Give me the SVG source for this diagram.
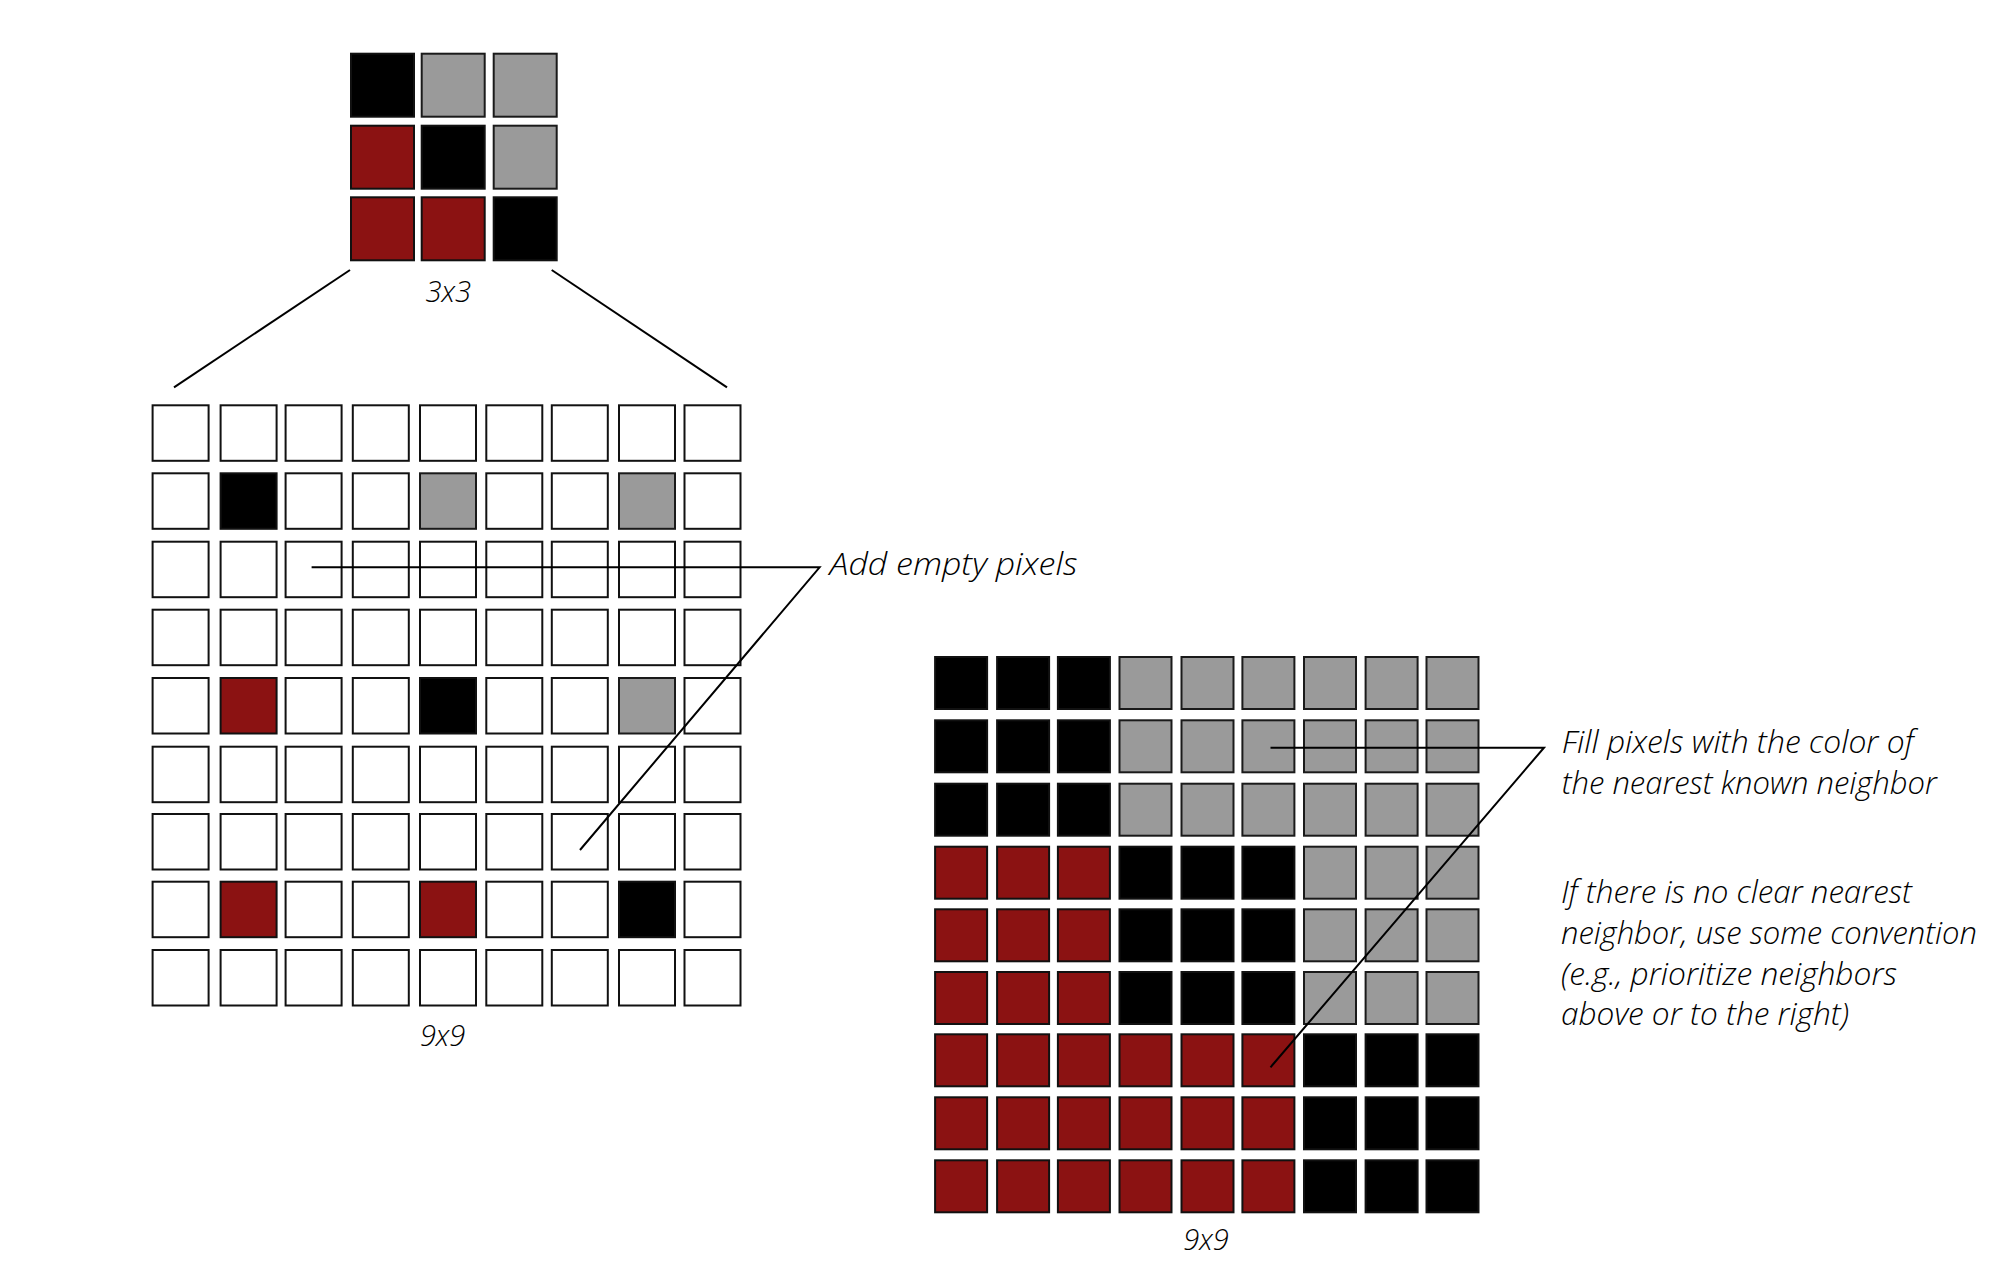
<svg xmlns="http://www.w3.org/2000/svg" width="1999" height="1261" viewBox="0 0 1999 1261">
<style>
.w{fill:#ffffff;stroke:#111;stroke-width:2}
.k{fill:#000000;stroke:#111;stroke-width:2}
.g{fill:#9a9a9a;stroke:#1a1a1a;stroke-width:2}
.r{fill:#8b1212;stroke:#111;stroke-width:2}
.ln{fill:none;stroke:#000;stroke-width:2}
.t{font-family:"Open Sans","Noto Sans","DejaVu Sans",sans-serif;font-style:italic;font-weight:350;font-size:31px;fill:#000}
.lbl{font-family:"Open Sans","Noto Sans","DejaVu Sans",sans-serif;font-style:italic;font-weight:350;font-size:29px;fill:#000;text-anchor:middle}
</style>
<rect x="0" y="0" width="1999" height="1261" fill="#ffffff"/>

<g id="grid3x3">
<rect class="k" x="351" y="53.7" width="63" height="63"/>
<rect class="g" x="421.7" y="53.7" width="63" height="63"/>
<rect class="g" x="493.7" y="53.7" width="63" height="63"/>
<rect class="r" x="351" y="125.7" width="63" height="63"/>
<rect class="k" x="421.7" y="125.7" width="63" height="63"/>
<rect class="g" x="493.7" y="125.7" width="63" height="63"/>
<rect class="r" x="351" y="197.3" width="63" height="63"/>
<rect class="r" x="421.7" y="197.3" width="63" height="63"/>
<rect class="k" x="493.7" y="197.3" width="63" height="63"/>
<text class="lbl" x="448.3" y="302.3">3x3</text>
</g>

<g id="grid9x9-empty">
<g id="l-row1">
<rect class="w" x="152.6" y="405.3" width="56" height="55.5"/><rect class="w" x="220.6" y="405.3" width="56" height="55.5"/><rect class="w" x="285.6" y="405.3" width="56" height="55.5"/><rect class="w" x="352.8" y="405.3" width="56" height="55.5"/><rect class="w" x="420" y="405.3" width="56" height="55.5"/><rect class="w" x="486.3" y="405.3" width="56" height="55.5"/><rect class="w" x="551.8" y="405.3" width="56" height="55.5"/><rect class="w" x="619" y="405.3" width="56" height="55.5"/><rect class="w" x="684.5" y="405.3" width="56" height="55.5"/>
</g>
<g id="l-row2">
<rect class="w" x="152.6" y="473.3" width="56" height="55.5"/><rect class="k" x="220.6" y="473.3" width="56" height="55.5"/><rect class="w" x="285.6" y="473.3" width="56" height="55.5"/><rect class="w" x="352.8" y="473.3" width="56" height="55.5"/><rect class="g" x="420" y="473.3" width="56" height="55.5"/><rect class="w" x="486.3" y="473.3" width="56" height="55.5"/><rect class="w" x="551.8" y="473.3" width="56" height="55.5"/><rect class="g" x="619" y="473.3" width="56" height="55.5"/><rect class="w" x="684.5" y="473.3" width="56" height="55.5"/>
</g>
<g id="l-row3">
<rect class="w" x="152.6" y="541.7" width="56" height="55.5"/><rect class="w" x="220.6" y="541.7" width="56" height="55.5"/><rect class="w" x="285.6" y="541.7" width="56" height="55.5"/><rect class="w" x="352.8" y="541.7" width="56" height="55.5"/><rect class="w" x="420" y="541.7" width="56" height="55.5"/><rect class="w" x="486.3" y="541.7" width="56" height="55.5"/><rect class="w" x="551.8" y="541.7" width="56" height="55.5"/><rect class="w" x="619" y="541.7" width="56" height="55.5"/><rect class="w" x="684.5" y="541.7" width="56" height="55.5"/>
</g>
<g id="l-row4">
<rect class="w" x="152.6" y="609.7" width="56" height="55.5"/><rect class="w" x="220.6" y="609.7" width="56" height="55.5"/><rect class="w" x="285.6" y="609.7" width="56" height="55.5"/><rect class="w" x="352.8" y="609.7" width="56" height="55.5"/><rect class="w" x="420" y="609.7" width="56" height="55.5"/><rect class="w" x="486.3" y="609.7" width="56" height="55.5"/><rect class="w" x="551.8" y="609.7" width="56" height="55.5"/><rect class="w" x="619" y="609.7" width="56" height="55.5"/><rect class="w" x="684.5" y="609.7" width="56" height="55.5"/>
</g>
<g id="l-row5">
<rect class="w" x="152.6" y="678" width="56" height="55.5"/><rect class="r" x="220.6" y="678" width="56" height="55.5"/><rect class="w" x="285.6" y="678" width="56" height="55.5"/><rect class="w" x="352.8" y="678" width="56" height="55.5"/><rect class="k" x="420" y="678" width="56" height="55.5"/><rect class="w" x="486.3" y="678" width="56" height="55.5"/><rect class="w" x="551.8" y="678" width="56" height="55.5"/><rect class="g" x="619" y="678" width="56" height="55.5"/><rect class="w" x="684.5" y="678" width="56" height="55.5"/>
</g>
<g id="l-row6">
<rect class="w" x="152.6" y="746.7" width="56" height="55.5"/><rect class="w" x="220.6" y="746.7" width="56" height="55.5"/><rect class="w" x="285.6" y="746.7" width="56" height="55.5"/><rect class="w" x="352.8" y="746.7" width="56" height="55.5"/><rect class="w" x="420" y="746.7" width="56" height="55.5"/><rect class="w" x="486.3" y="746.7" width="56" height="55.5"/><rect class="w" x="551.8" y="746.7" width="56" height="55.5"/><rect class="w" x="619" y="746.7" width="56" height="55.5"/><rect class="w" x="684.5" y="746.7" width="56" height="55.5"/>
</g>
<g id="l-row7">
<rect class="w" x="152.6" y="814" width="56" height="55.5"/><rect class="w" x="220.6" y="814" width="56" height="55.5"/><rect class="w" x="285.6" y="814" width="56" height="55.5"/><rect class="w" x="352.8" y="814" width="56" height="55.5"/><rect class="w" x="420" y="814" width="56" height="55.5"/><rect class="w" x="486.3" y="814" width="56" height="55.5"/><rect class="w" x="551.8" y="814" width="56" height="55.5"/><rect class="w" x="619" y="814" width="56" height="55.5"/><rect class="w" x="684.5" y="814" width="56" height="55.5"/>
</g>
<g id="l-row8">
<rect class="w" x="152.6" y="881.7" width="56" height="55.5"/><rect class="r" x="220.6" y="881.7" width="56" height="55.5"/><rect class="w" x="285.6" y="881.7" width="56" height="55.5"/><rect class="w" x="352.8" y="881.7" width="56" height="55.5"/><rect class="r" x="420" y="881.7" width="56" height="55.5"/><rect class="w" x="486.3" y="881.7" width="56" height="55.5"/><rect class="w" x="551.8" y="881.7" width="56" height="55.5"/><rect class="k" x="619" y="881.7" width="56" height="55.5"/><rect class="w" x="684.5" y="881.7" width="56" height="55.5"/>
</g>
<g id="l-row9">
<rect class="w" x="152.6" y="950" width="56" height="55.5"/><rect class="w" x="220.6" y="950" width="56" height="55.5"/><rect class="w" x="285.6" y="950" width="56" height="55.5"/><rect class="w" x="352.8" y="950" width="56" height="55.5"/><rect class="w" x="420" y="950" width="56" height="55.5"/><rect class="w" x="486.3" y="950" width="56" height="55.5"/><rect class="w" x="551.8" y="950" width="56" height="55.5"/><rect class="w" x="619" y="950" width="56" height="55.5"/><rect class="w" x="684.5" y="950" width="56" height="55.5"/>
</g>
<text class="lbl" x="442.6" y="1046">9x9</text>
</g>

<g id="grid9x9-filled">
<g id="r-row1">
<rect class="k" x="935.1" y="657" width="52" height="52"/><rect class="k" x="997.1" y="657" width="52" height="52"/><rect class="k" x="1057.9" y="657" width="52" height="52"/><rect class="g" x="1119.5" y="657" width="52" height="52"/><rect class="g" x="1181.5" y="657" width="52" height="52"/><rect class="g" x="1242.4" y="657" width="52" height="52"/><rect class="g" x="1304" y="657" width="52" height="52"/><rect class="g" x="1365.6" y="657" width="52" height="52"/><rect class="g" x="1426.5" y="657" width="52" height="52"/>
</g>
<g id="r-row2">
<rect class="k" x="935.1" y="720.3" width="52" height="52"/><rect class="k" x="997.1" y="720.3" width="52" height="52"/><rect class="k" x="1057.9" y="720.3" width="52" height="52"/><rect class="g" x="1119.5" y="720.3" width="52" height="52"/><rect class="g" x="1181.5" y="720.3" width="52" height="52"/><rect class="g" x="1242.4" y="720.3" width="52" height="52"/><rect class="g" x="1304" y="720.3" width="52" height="52"/><rect class="g" x="1365.6" y="720.3" width="52" height="52"/><rect class="g" x="1426.5" y="720.3" width="52" height="52"/>
</g>
<g id="r-row3">
<rect class="k" x="935.1" y="783.7" width="52" height="52"/><rect class="k" x="997.1" y="783.7" width="52" height="52"/><rect class="k" x="1057.9" y="783.7" width="52" height="52"/><rect class="g" x="1119.5" y="783.7" width="52" height="52"/><rect class="g" x="1181.5" y="783.7" width="52" height="52"/><rect class="g" x="1242.4" y="783.7" width="52" height="52"/><rect class="g" x="1304" y="783.7" width="52" height="52"/><rect class="g" x="1365.6" y="783.7" width="52" height="52"/><rect class="g" x="1426.5" y="783.7" width="52" height="52"/>
</g>
<g id="r-row4">
<rect class="r" x="935.1" y="846.7" width="52" height="52"/><rect class="r" x="997.1" y="846.7" width="52" height="52"/><rect class="r" x="1057.9" y="846.7" width="52" height="52"/><rect class="k" x="1119.5" y="846.7" width="52" height="52"/><rect class="k" x="1181.5" y="846.7" width="52" height="52"/><rect class="k" x="1242.4" y="846.7" width="52" height="52"/><rect class="g" x="1304" y="846.7" width="52" height="52"/><rect class="g" x="1365.6" y="846.7" width="52" height="52"/><rect class="g" x="1426.5" y="846.7" width="52" height="52"/>
</g>
<g id="r-row5">
<rect class="r" x="935.1" y="909.3" width="52" height="52"/><rect class="r" x="997.1" y="909.3" width="52" height="52"/><rect class="r" x="1057.9" y="909.3" width="52" height="52"/><rect class="k" x="1119.5" y="909.3" width="52" height="52"/><rect class="k" x="1181.5" y="909.3" width="52" height="52"/><rect class="k" x="1242.4" y="909.3" width="52" height="52"/><rect class="g" x="1304" y="909.3" width="52" height="52"/><rect class="g" x="1365.6" y="909.3" width="52" height="52"/><rect class="g" x="1426.5" y="909.3" width="52" height="52"/>
</g>
<g id="r-row6">
<rect class="r" x="935.1" y="972" width="52" height="52"/><rect class="r" x="997.1" y="972" width="52" height="52"/><rect class="r" x="1057.9" y="972" width="52" height="52"/><rect class="k" x="1119.5" y="972" width="52" height="52"/><rect class="k" x="1181.5" y="972" width="52" height="52"/><rect class="k" x="1242.4" y="972" width="52" height="52"/><rect class="g" x="1304" y="972" width="52" height="52"/><rect class="g" x="1365.6" y="972" width="52" height="52"/><rect class="g" x="1426.5" y="972" width="52" height="52"/>
</g>
<g id="r-row7">
<rect class="r" x="935.1" y="1034.3" width="52" height="52"/><rect class="r" x="997.1" y="1034.3" width="52" height="52"/><rect class="r" x="1057.9" y="1034.3" width="52" height="52"/><rect class="r" x="1119.5" y="1034.3" width="52" height="52"/><rect class="r" x="1181.5" y="1034.3" width="52" height="52"/><rect class="r" x="1242.4" y="1034.3" width="52" height="52"/><rect class="k" x="1304" y="1034.3" width="52" height="52"/><rect class="k" x="1365.6" y="1034.3" width="52" height="52"/><rect class="k" x="1426.5" y="1034.3" width="52" height="52"/>
</g>
<g id="r-row8">
<rect class="r" x="935.1" y="1097.3" width="52" height="52"/><rect class="r" x="997.1" y="1097.3" width="52" height="52"/><rect class="r" x="1057.9" y="1097.3" width="52" height="52"/><rect class="r" x="1119.5" y="1097.3" width="52" height="52"/><rect class="r" x="1181.5" y="1097.3" width="52" height="52"/><rect class="r" x="1242.4" y="1097.3" width="52" height="52"/><rect class="k" x="1304" y="1097.3" width="52" height="52"/><rect class="k" x="1365.6" y="1097.3" width="52" height="52"/><rect class="k" x="1426.5" y="1097.3" width="52" height="52"/>
</g>
<g id="r-row9">
<rect class="r" x="935.1" y="1160.3" width="52" height="52"/><rect class="r" x="997.1" y="1160.3" width="52" height="52"/><rect class="r" x="1057.9" y="1160.3" width="52" height="52"/><rect class="r" x="1119.5" y="1160.3" width="52" height="52"/><rect class="r" x="1181.5" y="1160.3" width="52" height="52"/><rect class="r" x="1242.4" y="1160.3" width="52" height="52"/><rect class="k" x="1304" y="1160.3" width="52" height="52"/><rect class="k" x="1365.6" y="1160.3" width="52" height="52"/><rect class="k" x="1426.5" y="1160.3" width="52" height="52"/>
</g>
<text class="lbl" x="1206" y="1249.5">9x9</text>
</g>

<g id="connectors">
<line class="ln" x1="350" y1="270" x2="174" y2="387.3"/>
<line class="ln" x1="551.7" y1="270" x2="727" y2="387.3"/>
<polyline class="ln" points="311.6,567.3 819.6,567.3 580,850"/>
<polyline class="ln" points="1270.5,747.7 1544,747.7 1270.5,1067.3"/>
</g>

<g id="label-add">
<text class="t" x="829.6" y="575" textLength="248" lengthAdjust="spacingAndGlyphs">Add empty pixels</text>
</g>
<g id="label-fill">
<text class="t" x="1561.7" y="753.3" textLength="352" lengthAdjust="spacingAndGlyphs">Fill pixels with the color of</text>
<text class="t" x="1561.7" y="793.5" textLength="375" lengthAdjust="spacingAndGlyphs">the nearest known neighbor</text>
</g>
<g id="label-convention">
<text class="t" x="1561" y="903.3" textLength="351" lengthAdjust="spacingAndGlyphs">If there is no clear nearest</text>
<text class="t" x="1561" y="944" textLength="416" lengthAdjust="spacingAndGlyphs">neighbor, use some convention</text>
<text class="t" x="1561" y="984.7" textLength="336" lengthAdjust="spacingAndGlyphs">(e.g., prioritize neighbors</text>
<text class="t" x="1561" y="1025.4" textLength="288" lengthAdjust="spacingAndGlyphs">above or to the right)</text>
</g>
</svg>
